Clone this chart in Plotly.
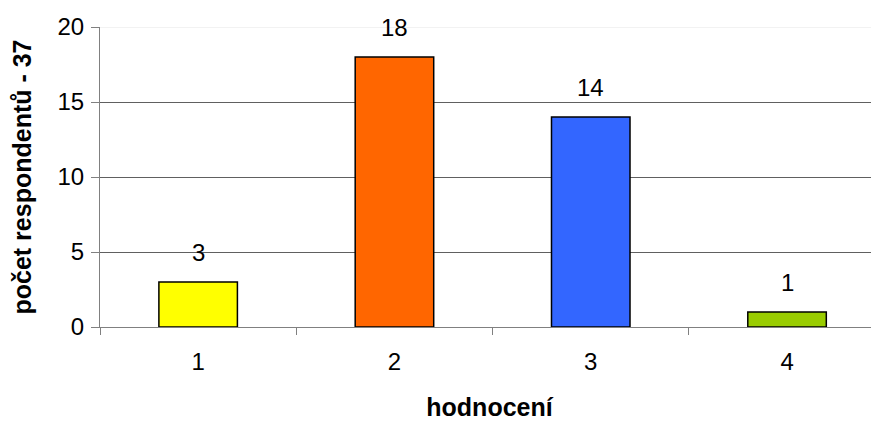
import plotly.graph_objects as go

categories = [1, 2, 3, 4]
counts = [3, 18, 14, 1]
bar_colors = ["#FFFF00", "#FF6600", "#3366FF", "#99CC00"]
y_ticks = [0, 5, 10, 15, 20]

font = "Liberation Sans, Arial, sans-serif"

fig = go.Figure()
fig.add_trace(go.Bar(
    x=categories, y=counts, width=0.4,
    marker=dict(color=bar_colors, line=dict(color="black", width=1.5)),
    hoverinfo="skip",
))

for c, v in zip(categories, counts):
    fig.add_annotation(x=c, y=v, text=str(v), showarrow=False,
                       yanchor="bottom", yshift=14,
                       font=dict(family=font, size=24, color="black"))

# top border of the plot area is lighter than the grid
fig.add_shape(type="line", xref="paper", yref="y", x0=0, x1=1, y0=20, y1=20,
              line=dict(color="#E6E6E6", width=1), layer="above")

fig.update_layout(
    width=871, height=413,
    margin=dict(l=92, r=0, t=19, b=94),
    paper_bgcolor="white", plot_bgcolor="white",
    showlegend=False,
    font=dict(family=font, color="black"),
)

fig.update_xaxes(
    range=[0.5, 0.5 + 779 / 196.3],
    tickvals=categories, ticktext=[str(c) for c in categories],
    ticks="", ticklabelstandoff=13,
    tickfont=dict(size=24),
    showline=True, linecolor="#808080", linewidth=1,
    showgrid=False, zeroline=False,
    minor=dict(tick0=0.5, dtick=1, ticks="outside", ticklen=7,
               tickcolor="#808080", showgrid=False),
    title=dict(text="<b>hodnocení</b>", font=dict(size=25), standoff=28),
)

fig.update_yaxes(
    range=[0, 20], tickvals=y_ticks,
    ticks="outside", ticklen=8, tickcolor="#808080",
    ticklabelstandoff=2,
    tickfont=dict(size=24),
    showline=True, linecolor="#808080", linewidth=1,
    showgrid=True, gridcolor="#606060", gridwidth=1,
    zeroline=False,
    title=dict(text="<b>počet respondentů - 37</b>", font=dict(size=25), standoff=20),
)

fig.write_html("out.html")
